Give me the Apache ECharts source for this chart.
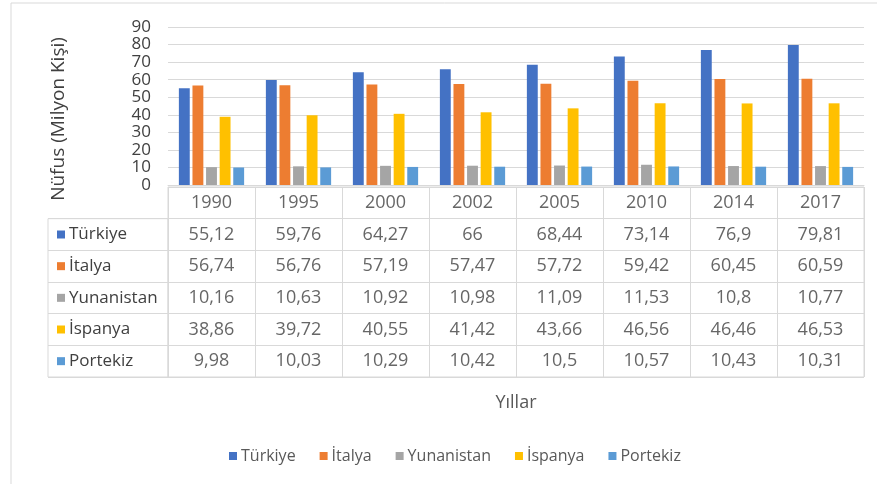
<!DOCTYPE html>
<html>
<head>
<meta charset="utf-8">
<script src="https://cdn.jsdelivr.net/npm/echarts@6/dist/echarts.min.js"></script>
<style>
  html, body { margin: 0; padding: 0; background: #fff; }
  #chart { width: 877px; height: 484px; }
</style>
</head>
<body>
<div id="chart"></div>
<script>
// values
const years = ['1990', '1995', '2000', '2002', '2005', '2010', '2014', '2017']
const countries = ['Türkiye', 'İtalya', 'Yunanistan', 'İspanya', 'Portekiz']
const turkiye = [55.12, 59.76, 64.27, 66, 68.44, 73.14, 76.9, 79.81]
const italya = [56.74, 56.76, 57.19, 57.47, 57.72, 59.42, 60.45, 60.59]
const yunanistan = [10.16, 10.63, 10.92, 10.98, 11.09, 11.53, 10.8, 10.77]
const ispanya = [38.86, 39.72, 40.55, 41.42, 43.66, 46.56, 46.46, 46.53]
const portekiz = [9.98, 10.03, 10.29, 10.42, 10.5, 10.57, 10.43, 10.31]
const yTicks = [0, 10, 20, 30, 40, 50, 60, 70, 80, 90]

const colors = ['#4472C4', '#ED7D31', '#A5A5A5', '#FFC000', '#5B9BD5']
const seriesValues = [turkiye, italya, yunanistan, ispanya, portekiz]

const font = 'Open Sans'
const textColor = '#404040'
const lineColor = '#D9D9D9'

// table geometry
const tableTop = 187
const tableBottom = 377
const rowH = (tableBottom - tableTop) / 6

const fmt = v => String(v).replace('.', ',')

// cell texts: header row with years, then one row per country
const cellData = []
years.forEach((y, i) => cellData.push([i, 0, y]))
seriesValues.forEach((vals, r) => {
  vals.forEach((v, i) => cellData.push([i, r + 1, fmt(v)]))
})

const rich = {}
colors.forEach((c, i) => {
  rich['s' + i] = { width: 8, height: 8, backgroundColor: c }
  rich['t' + i] = { fontFamily: font, fontSize: 17, color: textColor, padding: [0, 0, 0, 4] }
})

const chart = echarts.init(document.getElementById('chart'))

const option = {
  animation: false,
  textStyle: { fontFamily: font },
  color: colors,
  graphic: [{
    type: 'rect',
    shape: { x: 11, y: 3, width: 900, height: 600 },
    style: { fill: 'none', stroke: lineColor, lineWidth: 1 },
    silent: true
  }],
  legend: {
    data: countries,
    bottom: 15,
    left: 224,
    icon: 'rect',
    itemWidth: 8,
    itemHeight: 8,
    itemGap: 24,
    textStyle: { fontFamily: font, fontSize: 16, color: '#595959', padding: [0, 0, 0, -1] }
  },
  grid: [
    { left: 168, right: 13, top: 27, bottom: 484 - 185 },
    { left: 168, right: 13, top: tableTop, bottom: 484 - tableBottom, show: true, borderColor: lineColor, borderWidth: 1 },
    { left: 48, width: 120, top: tableTop + rowH, bottom: 484 - tableBottom, show: true, borderColor: lineColor, borderWidth: 1 }
  ],
  xAxis: [
    {
      gridIndex: 0, type: 'category', data: years,
      axisLine: { show: true, lineStyle: { color: lineColor } },
      axisTick: { show: false }, axisLabel: { show: false }
    },
    {
      gridIndex: 1, type: 'category', data: years,
      axisLine: { show: false }, axisTick: { show: false }, axisLabel: { show: false },
      splitLine: { show: true, interval: 0, lineStyle: { color: lineColor } },
      name: 'Yıllar', nameLocation: 'middle', nameGap: 17,
      nameTextStyle: { fontFamily: font, fontSize: 18, color: '#595959' }
    },
    {
      gridIndex: 2, type: 'value', show: false
    }
  ],
  yAxis: [
    {
      gridIndex: 0, type: 'value', min: 0, max: 90, interval: 10,
      axisLine: { show: false }, axisTick: { show: false },
      axisLabel: {
        fontFamily: font, fontSize: 17, color: textColor, margin: 17,
        showMinLabel: true, showMaxLabel: true,
        formatter: v => yTicks.includes(v) ? String(v) : ''
      },
      splitLine: { lineStyle: { color: lineColor } },
      name: 'Nüfus (Milyon Kişi)', nameLocation: 'middle', nameRotate: 90, nameGap: 100,
      nameTextStyle: { fontFamily: font, fontSize: 19, color: textColor, padding: [0, 26, 0, 0] }
    },
    {
      gridIndex: 1, type: 'category', inverse: true, data: ['yil'].concat(countries),
      axisLine: { show: false }, axisTick: { show: false }, axisLabel: { show: false },
      splitLine: { show: true, interval: 0, lineStyle: { color: lineColor } }
    },
    {
      gridIndex: 2, type: 'category', inverse: true, data: countries,
      axisLine: { show: false }, axisTick: { show: false },
      axisLabel: {
        inside: true, margin: 9, interval: 0,
        formatter: (v, i) => '{s' + i + '|}{t' + i + '|' + v + '}',
        rich: rich
      },
      splitLine: { show: true, interval: 0, lineStyle: { color: lineColor } }
    }
  ],
  series: countries.map((name, i) => ({
    name: name,
    type: 'bar',
    xAxisIndex: 0,
    yAxisIndex: 0,
    data: seriesValues[i],
    barGap: '25%',
    barCategoryGap: '25%'
  })).concat([{
    name: 'tablo',
    type: 'scatter',
    xAxisIndex: 1,
    yAxisIndex: 1,
    symbolSize: 1,
    itemStyle: { color: 'rgba(0,0,0,0)' },
    data: cellData,
    label: {
      show: true,
      position: 'inside',
      formatter: p => p.data[2],
      fontFamily: font,
      fontSize: 18,
      color: textColor
    }
  }])
}

chart.setOption(option)
</script>
</body>
</html>
